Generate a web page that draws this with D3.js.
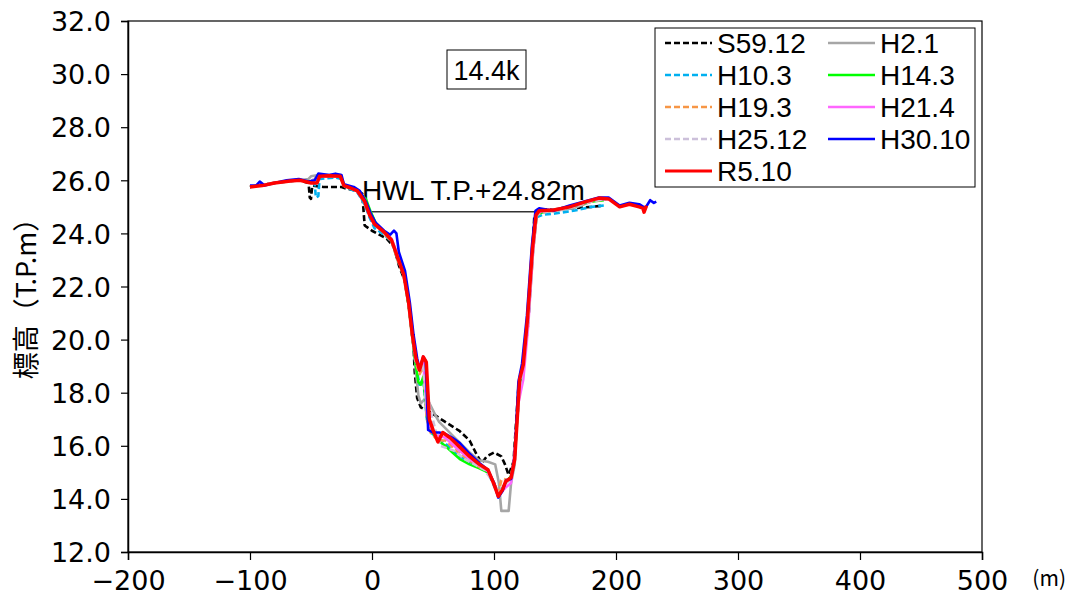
<!DOCTYPE html>
<html><head><meta charset="utf-8">
<script src="https://cdn.jsdelivr.net/npm/d3@7"></script>
<style>body{margin:0;background:#fff}svg{display:block}text{font-family:"Liberation Sans",Arial,sans-serif;fill:#000}</style>
</head><body><svg id="c" width="1072" height="606"></svg>
<script>
const xTicks=[-200,-100,0,100,200,300,400,500];
const yTicks=[12,14,16,18,20,22,24,26,28,30,32];
const seriesNames=["S59.12","H2.1","H10.3","H14.3","H19.3","H21.4","H25.12","H30.10","R5.10"];
const seriesColors=["#000000","#a6a6a6","#00b0f0","#00ff00","#f79646","#ff66ff","#ccc0da","#0000ff","#ff0000"];
const seriesDashed=[true,false,true,false,true,false,true,false,false];
const hwlValue=24.82, hwlStart=0, hwlEnd=136;

const S59_12=[[-100,25.75],[-80,25.9],[-60,26.0],[-52,25.9],[-51,25.35],[-50,25.3],[-49,25.8],[-40,25.75],[-30,25.75],[-25,25.75],[-22,25.7],[-12,25.6],[-8,25.5],[-6,24.3],[0,24.1],[6,23.95],[12,23.8],[18,23.5],[22,22.8],[27,22.2],[31,21.0],[34,19.8],[35,18.8],[37,17.8],[40,17.45],[44,17.35],[50,17.2],[60,16.9],[72,16.55],[80,16.2],[86,15.65],[90,15.35],[94,15.6],[100,15.75],[106,15.6],[109,15.3],[112,14.9],[116,15.4],[120,18.2],[124,19.0],[128,20.6],[131,23.0],[133,24.6],[136,24.9],[150,24.9],[165,24.95],[180,25.0],[190,25.05]];
const H2_1=[[-100,25.75],[-80,25.9],[-60,26.0],[-52,26.05],[-50,26.15],[-44,26.2],[-26,26.2],[-23,25.8],[-12,25.6],[-5,25.0],[0,24.5],[10,24.0],[16,23.7],[22,23.0],[27,22.3],[31,21.2],[34,20.0],[36,18.8],[38,17.9],[40,17.6],[43,17.75],[46,17.7],[52,17.15],[55,16.9],[68,16.3],[80,15.75],[88,15.45],[95,15.4],[101,15.3],[104,14.6],[106,13.55],[112,13.55],[114,14.6],[117,15.3],[120,18.2],[124,19.0],[128,20.7],[132,23.3],[135,24.7],[140,24.8],[150,24.85],[165,24.95],[180,25.2],[192,25.3]];
const H10_3=[[-100,25.75],[-80,25.9],[-60,26.0],[-50,25.95],[-47,25.9],[-46,25.35],[-44,25.4],[-43,26.05],[-30,26.1],[-25,26.05],[-22,25.75],[-12,25.55],[-6,25.1],[-2,24.6],[2,24.2],[10,23.95],[16,23.7],[21,23.0],[26,22.4],[30,21.3],[33,20.1],[36,19.0],[39,18.3],[42,18.5],[45,17.0],[48,16.5],[54,16.3],[60,16.1],[66,15.8],[72,15.6],[80,15.4],[88,15.2],[95,15.0],[100,14.5],[103.5,14.15],[107,14.4],[110,14.7],[114,14.8],[117,15.7],[121,18.2],[124,19.0],[128,20.7],[131.5,23.3],[134.5,24.6],[140,24.7],[150,24.75],[165,24.85],[180,25.0],[190,25.05]];
const H14_3=[[-100,25.75],[-80,25.9],[-60,26.0],[-50,25.95],[-44,26.15],[-26,26.15],[-23,25.8],[-12,25.6],[-5,25.3],[-1,24.8],[3,24.4],[10,24.05],[16,23.75],[21,23.1],[26,22.5],[30,21.3],[33,20.1],[36,19.0],[38,18.4],[40,18.3],[42,18.6],[45,17.1],[48,16.6],[54,16.2],[60,16.0],[66,15.75],[72,15.5],[80,15.3],[88,15.15],[95,15.0],[100,14.6],[103.5,14.2],[107,14.4],[110,14.65],[114,14.85],[117,15.6],[121,18.3],[124,19.1],[128,20.7],[132,23.4],[135,24.7],[140,24.8],[150,24.9],[165,25.05],[180,25.2],[190,25.25]];
const H19_3=[[-100,25.75],[-80,25.9],[-60,26.0],[-50,25.95],[-44,26.15],[-26,26.15],[-23,25.8],[-12,25.65],[-6,25.3],[-2,24.8],[2,24.4],[10,24.0],[16,23.7],[21,23.0],[26,22.4],[30,21.3],[33,20.1],[36,19.1],[39,18.7],[42,19.0],[45,17.0],[48,16.5],[54,16.2],[60,16.2],[66,15.95],[72,15.7],[80,15.45],[88,15.2],[95,15.05],[100,14.6],[103.5,14.2],[106,14.7],[108,14.75],[111,14.7],[114,14.85],[117,15.6],[121,18.3],[124,19.0],[128,20.7],[132,23.3],[135,24.7],[140,24.8],[150,24.85],[165,25.0],[180,25.2],[192,25.3]];
const H21_4=[[-100,25.75],[-80,25.9],[-60,26.0],[-50,25.95],[-44,26.15],[-26,26.15],[-23,25.8],[-12,25.6],[-6,25.2],[-2,24.7],[2,24.35],[10,24.05],[16,23.8],[21,23.2],[26,22.5],[30,21.4],[33,20.2],[36,19.2],[39,18.9],[42,19.2],[45,17.2],[48,16.7],[54,16.4],[60,16.3],[66,16.05],[72,15.8],[80,15.5],[88,15.25],[95,15.05],[100,14.6],[103.5,14.15],[107,14.3],[110,14.45],[114,14.6],[117,15.8],[120,17.6],[124,18.5],[128,20.5],[132,23.3],[135,24.75],[140,24.85],[150,24.9],[165,25.05],[180,25.25],[192,25.3]];
const H25_12=[[-100,25.75],[-80,25.9],[-60,26.0],[-50,25.95],[-44,26.15],[-26,26.15],[-23,25.8],[-12,25.6],[-6,25.2],[-2,24.7],[2,24.35],[10,24.05],[16,23.8],[21,23.1],[26,22.45],[30,21.35],[33,20.2],[36,19.2],[39,18.8],[42,19.1],[44,17.6],[46,17.9],[48,17.3],[52,16.6],[56,16.0],[62,15.9],[68,15.8],[76,15.5],[84,15.3],[92,15.1],[100,14.6],[103.5,14.2],[107,14.4],[110,14.6],[114,14.75],[117,15.7],[121,18.2],[124,19.0],[128,20.7],[132,23.3],[135,24.7],[140,24.8],[150,24.85],[165,25.0],[180,25.2],[192,25.3]];
const H30_10=[[-100,25.8],[-95,25.8],[-92,25.95],[-88,25.8],[-80,25.9],[-70,26.0],[-60,26.05],[-52,25.95],[-47,26.0],[-44,26.25],[-35,26.2],[-30,26.25],[-25,26.2],[-23,25.85],[-15,25.75],[-10,25.6],[-5,25.2],[-1,24.75],[3,24.4],[10,24.1],[15,23.95],[18,24.1],[20,24.0],[22,23.3],[27,22.6],[31,21.4],[34,20.2],[37,19.3],[39,18.9],[42,19.35],[44,19.2],[46,16.6],[50,16.5],[55,16.5],[60,16.45],[66,16.3],[72,16.1],[80,15.7],[88,15.35],[95,15.1],[100,14.6],[103.5,14.05],[107,14.3],[110,14.7],[114,14.75],[117,15.6],[120,18.4],[123,19.1],[127,20.9],[131,23.5],[134,24.85],[137,24.95],[149,24.85],[162,25.05],[174,25.2],[186,25.35],[194,25.35],[203,25.05],[211,25.15],[219,25.1],[224,24.95],[228,25.25],[231,25.15],[233,25.2]];
const R5_10=[[-100,25.75],[-90,25.8],[-80,25.9],[-67,25.97],[-59,26.0],[-50,25.9],[-45,25.9],[-43,26.15],[-35,26.17],[-26,26.15],[-23,25.8],[-18,25.72],[-12,25.6],[-6,25.2],[-2,24.7],[2,24.35],[10,24.05],[16,23.75],[21,23.1],[26,22.45],[30,21.4],[33,20.2],[36,19.3],[39,18.85],[42,19.35],[44.5,19.15],[47,17.0],[50,16.6],[54,16.15],[58,16.5],[64,16.3],[72,15.95],[80,15.6],[88,15.3],[95,15.1],[100,14.55],[103.5,14.1],[107,14.35],[109.5,14.65],[114,14.8],[117,15.5],[121,18.5],[124,19.05],[127.5,20.8],[131.5,23.4],[134.5,24.7],[137,24.85],[149,24.88],[162,25.0],[174,25.18],[186,25.33],[194,25.3],[203,25.0],[211,25.1],[219,25.0],[222,24.95],[223,24.8],[225,25.05]];
const seriesData=[S59_12,H2_1,H10_3,H14_3,H19_3,H21_4,H25_12,H30_10,R5_10];

const svg=d3.select("#c");
const L=128,R=982,T=21,B=552;
const x=d3.scaleLinear().domain([-200,500]).range([L,R]);
const y=d3.scaleLinear().domain([12,32]).range([B,T]);
const fmtY=d3.format(".1f");
const fmtX=v=>v<0?"\u2212"+Math.abs(v):String(v);

svg.append("rect").attr("x",L).attr("y",T).attr("width",R-L).attr("height",B-T).attr("fill","none").attr("stroke","#000").attr("stroke-width",1.2);

const gx=svg.append("g").attr("transform",`translate(0,${B})`).call(d3.axisBottom(x).tickValues(xTicks).tickFormat(fmtX).tickSizeOuter(0).tickSize(8).tickPadding(8));
const gy=svg.append("g").attr("transform",`translate(${L},0)`).call(d3.axisLeft(y).tickValues(yTicks).tickFormat(fmtY).tickSizeOuter(0).tickSize(7).tickPadding(10));
[gx,gy].forEach(g=>{g.selectAll("path").attr("stroke","#000").attr("stroke-width",1.5);g.selectAll("line").attr("stroke","#000").attr("stroke-width",1.2);g.selectAll("text").style("font-family","'DejaVu Sans',sans-serif").style("font-size","27px").attr("fill","#000");});
gx.selectAll("text").attr("dy","0.82em");
gy.selectAll("text").attr("dy","0.36em");

svg.append("text").attr("transform","translate(36,292) rotate(-90)").attr("text-anchor","middle").style("font-family","'Noto Sans CJK JP',sans-serif").style("font-size","27px").text("標高（T.P.m）");
svg.append("text").attr("x",1066).attr("y",586).attr("text-anchor","end").style("font-family","'Noto Sans CJK JP',sans-serif").style("font-size","21px").text("(m)");

svg.append("line").attr("x1",x(hwlStart)).attr("x2",x(hwlEnd)).attr("y1",y(hwlValue)).attr("y2",y(hwlValue)).attr("stroke","#333").attr("stroke-width",1.5);
svg.append("text").attr("x",362).attr("y",200).style("font-size","28px").text("HWL T.P.+24.82m");

const line=d3.line().x(d=>x(d[0])).y(d=>y(d[1]));
seriesData.forEach((s,i)=>{
  svg.append("path").datum(s).attr("d",line).attr("fill","none").attr("stroke",seriesColors[i])
    .attr("stroke-width",i===8?3.5:2.6).attr("stroke-linejoin","round")
    .attr("stroke-dasharray",seriesDashed[i]?"6,3":null);
});

svg.append("rect").attr("x",447).attr("y",50).attr("width",79).attr("height",39).attr("fill","#fff").attr("stroke","#000").attr("stroke-width",1);
svg.append("text").attr("x",486.5).attr("y",80).attr("text-anchor","middle").style("font-size","27px").text("14.4k");

svg.append("rect").attr("x",655).attr("y",28).attr("width",320).attr("height",159).attr("fill","#fff").attr("stroke","#000").attr("stroke-width",1);
seriesNames.forEach((n,i)=>{
  const col=i===8?0:i%2, row=i===8?4:Math.floor(i/2);
  const lx=col===0?665:828, ly=43+row*32;
  svg.append("line").attr("x1",lx).attr("x2",lx+47).attr("y1",ly).attr("y2",ly).attr("stroke",seriesColors[i]).attr("stroke-width",i===8?3:2.6).attr("stroke-dasharray",seriesDashed[i]?"6,3":null);
  svg.append("text").attr("x",lx+52).attr("y",ly+10).style("font-size","28px").text(n);
});
</script></body></html>
